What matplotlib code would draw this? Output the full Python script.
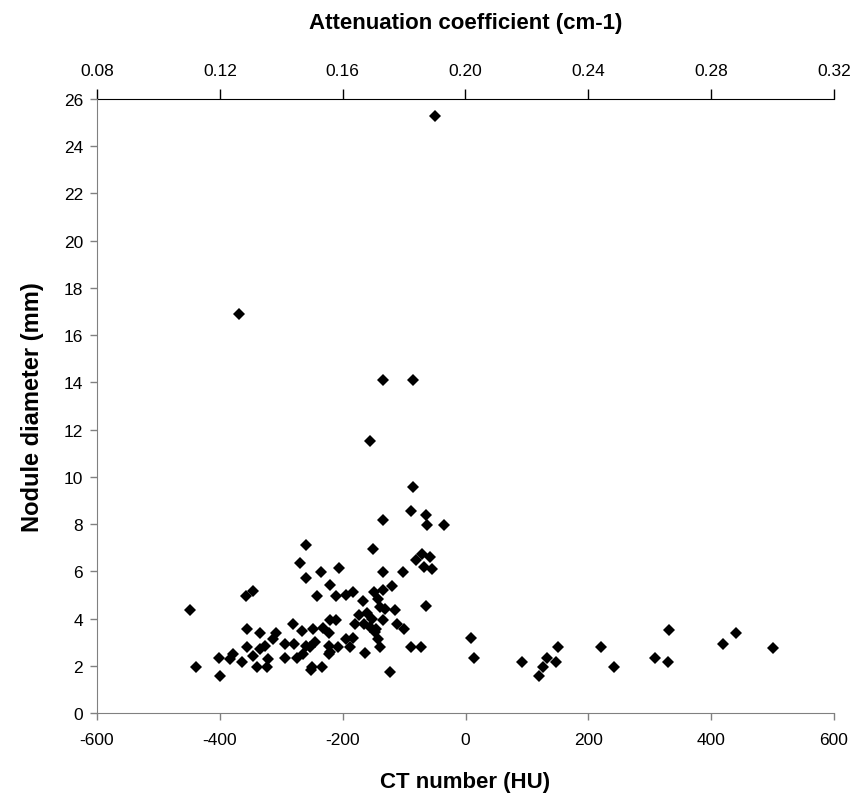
import matplotlib
matplotlib.use("Agg")
import matplotlib.pyplot as plt

plt.rcParams['font.family'] = ['Liberation Sans', 'DejaVu Sans']

ct_hu = [
    -50, -369, -135, -85, -155, -85, -89, -64, -62, -35, -135, -259, -150,
    -71, -58, -81, -68, -55, -270, -235, -206, -135, -102, -259, -220, -241,
    -211, -194, -183, -167, -149, -135, -120, -142, -139, -131, -114, -64,
    -449, -358, -346,
    -355, -335, -309, -313, -281, -267, -249, -232, -221, -211, -223, -294,
    -280, -355, -378, -383, -402, -364, -346, -335, -326, -321, -340, -323,
    -294, -275, -264, -253, -245, -250, -234, -252, -439, -400, -207, -221,
    -173, -161, -153, -180, -166, -156, -145, -135, -112, -100, -223, -223,
    -194, -183, -188, -164, -142, -139, -147, -89, -73, -123, -259,
    9, 14, 92, 150, 132, 147, 126, 120, 220, 241, 331, 309, 329, 420, 440, 500,
]
diameter_mm = [
    25.3, 16.9, 14.1, 14.1, 11.5, 9.55, 8.55, 8.37, 7.94, 7.94, 8.18, 7.12, 6.96,
    6.74, 6.6, 6.46, 6.18, 6.1, 6.36, 5.98, 6.12, 5.97, 5.97, 5.73, 5.4, 4.97,
    4.97, 5.0, 5.14, 4.76, 5.14, 5.19, 5.37, 4.83, 4.48, 4.41, 4.38, 4.51,
    4.37, 4.97, 5.16,
    3.56, 3.38, 3.38, 3.14, 3.77, 3.49, 3.56, 3.59, 3.92, 3.92, 3.4, 2.93,
    2.93, 2.79, 2.5, 2.29, 2.32, 2.15, 2.43, 2.71, 2.85, 2.29, 1.94, 1.94,
    2.32, 2.32, 2.5, 2.79, 3.0, 1.94, 1.94, 1.8, 1.94, 1.58, 2.79, 2.57,
    4.13, 4.24, 3.99, 3.77, 3.77, 3.63, 3.56, 3.92, 3.77, 3.56, 2.85, 2.5,
    3.14, 3.17, 2.79, 2.53, 3.14, 2.79, 3.42, 2.79, 2.79, 1.75, 2.85,
    3.17, 2.33, 2.15, 2.79, 2.32, 2.15, 1.94, 1.58, 2.79, 1.94, 3.53, 2.32, 2.15, 2.93, 3.39, 2.77,
]

x_ticks = [-600, -400, -200, 0, 200, 400, 600]
y_ticks = list(range(0, 27, 2))
top_ticks = [0.08, 0.12, 0.16, 0.20, 0.24, 0.28, 0.32]
top_labels = ["0.08", "0.12", "0.16", "0.20", "0.24", "0.28", "0.32"]

fig = plt.figure(figsize=(8.5, 8.03), dpi=100)
ax = fig.add_axes([97/850, (803-714)/803, (834-97)/850, (714-100)/803])

ax.plot(ct_hu, diameter_mm, linestyle='none', marker='D', ms=6.2,
        color='black', markeredgewidth=0)

ax.set_xlim(-600, 600)
ax.set_ylim(0, 26)
ax.set_xticks(x_ticks)
ax.set_yticks(y_ticks)
ax.set_xticklabels([str(v) for v in x_ticks])

for s in ['right', 'top']:
    ax.spines[s].set_visible(False)
ax.spines['left'].set_color('#808080')
ax.spines['bottom'].set_color('#808080')
ax.tick_params(axis='both', direction='out', length=5, width=1, colors='#808080',
               labelcolor='black', labelsize=12.5)
ax.tick_params(axis='x', pad=9)
ax.tick_params(axis='y', pad=5)

ax.set_xlabel("CT number (HU)", fontsize=16, fontweight='bold', labelpad=17)
ax.set_ylabel("Nodule diameter (mm)", fontsize=17, fontweight='bold', labelpad=14)

def hu2mu(h):
    return 0.08 + (h + 600) * 0.0002

def mu2hu(m):
    return (m - 0.08) / 0.0002 - 600

sec = ax.secondary_xaxis('top', functions=(hu2mu, mu2hu))
sec.set_xticks(top_ticks)
sec.set_xticklabels(top_labels)
sec.spines['top'].set_color('black')
sec.tick_params(direction='out', length=7, width=1, colors='black', labelsize=12.5, pad=8)
sec.set_xlabel("Attenuation coefficient (cm-1)", fontsize=16, fontweight='bold', labelpad=25)

fig.savefig("out.png", dpi=100)
